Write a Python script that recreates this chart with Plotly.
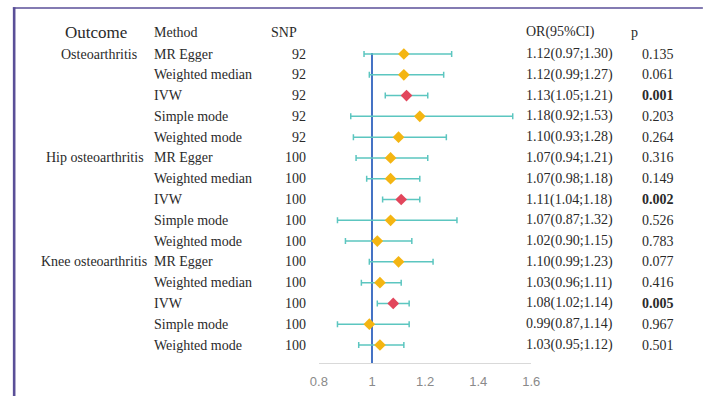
import plotly.graph_objects as go

# ---------------- data ----------------
outcomes = ["Osteoarthritis", "Hip osteoarthritis", "Knee osteoarthritis"]
methods = ["MR Egger", "Weighted median", "IVW", "Simple mode", "Weighted mode"]
snp_counts = [92, 100, 100]
or_vals = [1.12, 1.12, 1.13, 1.18, 1.10,
           1.07, 1.07, 1.11, 1.07, 1.02,
           1.10, 1.03, 1.08, 0.99, 1.03]
ci_low = [0.97, 0.99, 1.05, 0.92, 0.93,
          0.94, 0.98, 1.04, 0.87, 0.90,
          0.99, 0.96, 1.02, 0.87, 0.95]
ci_high = [1.30, 1.27, 1.21, 1.53, 1.28,
           1.21, 1.18, 1.18, 1.32, 1.15,
           1.23, 1.11, 1.14, 1.14, 1.12]
ci_sep = [";"] * 13 + [","] + [";"]
p_vals = ["0.135", "0.061", "0.001", "0.203", "0.264",
          "0.316", "0.149", "0.002", "0.526", "0.783",
          "0.077", "0.416", "0.005", "0.967", "0.501"]
p_bold = [False, False, True, False, False,
          False, False, True, False, False,
          False, False, True, False, False]
x_ticks = [0.8, 1.0, 1.2, 1.4, 1.6]
x_tick_labels = ["0.8", "1", "1.2", "1.4", "1.6"]

# ---------------- layout helpers ----------------
W, H = 705, 396
n_rows = len(or_vals)
rows = list(range(n_rows))
row_methods = [m for _ in outcomes for m in methods]
row_snp = [s for s in snp_counts for _ in methods]
row_is_ivw = [m == "IVW" for m in row_methods]

first_row_px, row_step_px = 54.0, 20.786
axis_px = 363.0
y_top = -first_row_px / row_step_px
y_bottom = (axis_px - first_row_px) / row_step_px
header_y = -1.05
outcome_left_px = [51, 36, 31]

serif = "Liberation Serif, Times New Roman, serif"
txt_color = "#2a2a2a"
gold, red, teal, blue = "#f4b512", "#e2465c", "#5cc6c0", "#4472c4"

fig = go.Figure()

# confidence intervals + point estimates
for is_ivw, color in [(False, gold), (True, red)]:
    idx = [i for i in rows if row_is_ivw[i] == is_ivw]
    fig.add_trace(go.Scatter(
        x=[or_vals[i] for i in idx],
        y=idx,
        mode="markers",
        marker=dict(symbol="diamond", size=9, color=color, line=dict(width=0)),
        error_x=dict(type="data", symmetric=False,
                     array=[ci_high[i] - or_vals[i] for i in idx],
                     arrayminus=[or_vals[i] - ci_low[i] for i in idx],
                     color=teal, thickness=1.5, width=3),
        showlegend=False, hoverinfo="skip", cliponaxis=False,
    ))

# reference line at OR = 1
fig.add_shape(type="line", xref="x", yref="y", x0=1, x1=1, y0=-0.05, y1=y_bottom,
              line=dict(color=blue, width=2), layer="below")

ann = []
def add_text(x_px, y, text, anchor="left", size=14, bold=False):
    ann.append(dict(x=x_px / W, xref="paper", y=y, yref="y", text=f"<b>{text}</b>" if bold else text,
                    showarrow=False, xanchor=anchor, yanchor="middle",
                    font=dict(family=serif, size=size, color=txt_color)))

# headers
add_text(89, header_y, "Outcome", anchor="center", size=17)
add_text(147, header_y, "Method")
add_text(298, header_y, "SNP", anchor="right")
add_text(529, header_y, "OR(95%CI)")
add_text(636, header_y, "p")

for k, name in enumerate(outcomes):
    add_text(outcome_left_px[k], k * len(methods), name)

for i in rows:
    add_text(147, i, row_methods[i])
    add_text(307, i, str(row_snp[i]), anchor="right")
    add_text(529, i, f"{or_vals[i]:.2f}({ci_low[i]:.2f}{ci_sep[i]}{ci_high[i]:.2f})")
    add_text(648, i, p_vals[i], bold=p_bold[i])

# frame border (top and left edges visible)
frame_color = "#5a4f98"
shapes_border = [
    dict(type="line", xref="paper", yref="paper", x0=4 / W, x1=1.01, y0=1 - 8 / H, y1=1 - 8 / H,
         line=dict(color=frame_color, width=1.6)),
    dict(type="line", xref="paper", yref="paper", x0=5.3 / W, x1=5.3 / W, y0=1 - 7.2 / H, y1=-0.01,
         line=dict(color=frame_color, width=2.6)),
]
for s in shapes_border:
    fig.add_shape(**s)

fig.update_layout(
    width=W, height=H,
    margin=dict(l=0, r=0, t=0, b=0),
    paper_bgcolor="white", plot_bgcolor="white",
    annotations=ann,
    xaxis=dict(range=[0.8, 1.6], domain=[318 / W, 536 / W],
               tickvals=x_ticks, ticktext=x_tick_labels,
               showline=True, linecolor="#d9d9d9", linewidth=1.2,
               showgrid=False, zeroline=False, ticks="",
               ticklabelstandoff=6,
               tickfont=dict(family="Liberation Sans, Arial, sans-serif", size=13, color="#8a8a8a"),
               fixedrange=True),
    yaxis=dict(range=[y_bottom, y_top], domain=[1 - axis_px / H, 1],
               visible=False, fixedrange=True),
    showlegend=False,
)

fig.write_html("out.html", config={"displayModeBar": False},
               post_script="document.body.style.margin='0';document.body.style.overflow='hidden';")
